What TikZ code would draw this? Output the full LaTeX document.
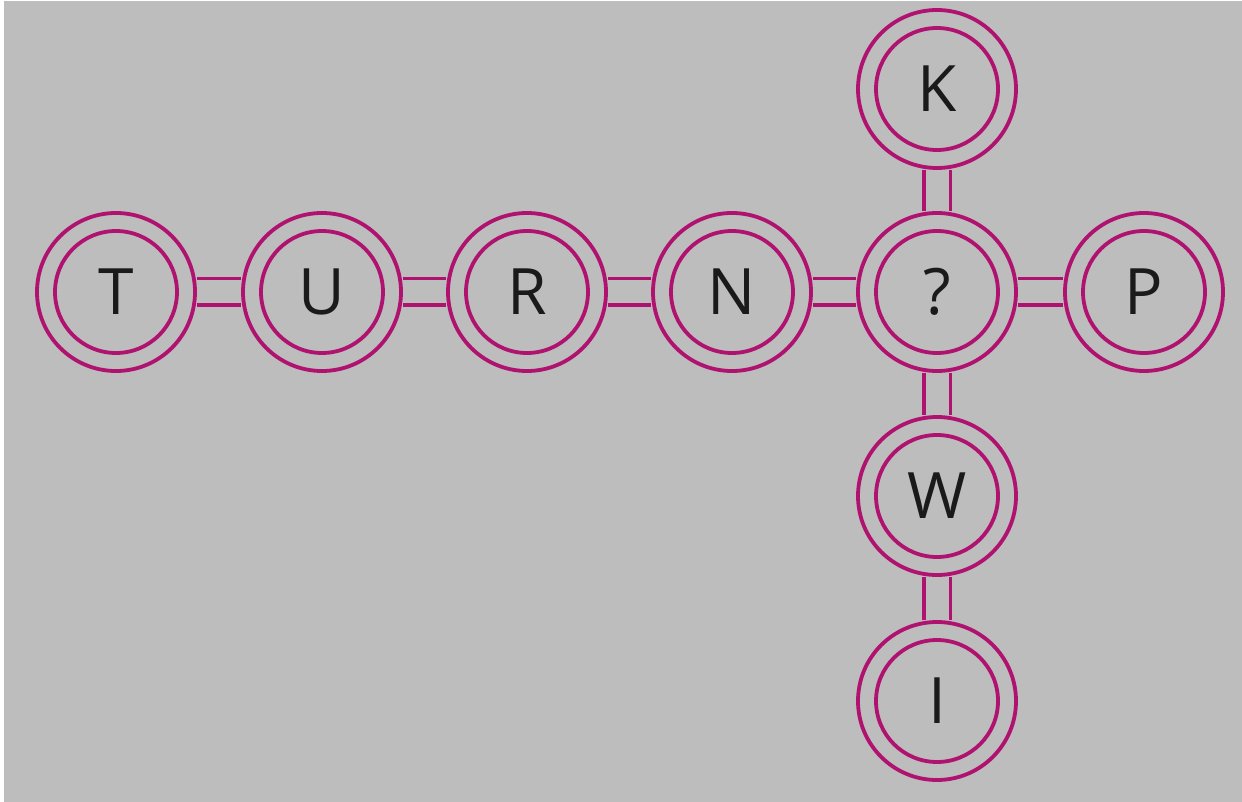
\documentclass[tikz,border=0pt]{standalone}
\usepackage{fontspec}
\setmainfont{Open Sans}
\definecolor{bg}{HTML}{BDBDBD}
\definecolor{mag}{HTML}{B0126F}
\definecolor{ink}{HTML}{1A1A1A}
\begin{document}
\begin{tikzpicture}[x=1pt,y=-1pt,
  ring/.style={circle, draw=mag, line width=3.8pt, minimum size=158pt, inner sep=0pt,
    fill=bg, text=ink, font=\fontsize{64}{70}\selectfont,
    path picture={\draw[mag, line width=3.8pt] (path picture bounding box.center) circle (61pt);}},
  link/.style={draw=mag, line width=3.8pt, double=bg, double distance=23pt}]
\fill[white] (0,0) rectangle (1242,802);
\fill[bg] (4,1) rectangle (1242,802);
\useasboundingbox (0,0) rectangle (1242,802);
\node[ring] (T) at (116,292) {T};
\node[ring] (U) at (322,292) {U};
\node[ring] (R) at (527,292) {R};
\node[ring] (N) at (732,292) {N};
\node[ring] (Q) at (937,292) {?};
\node[ring] (P) at (1144,292) {P};
\node[ring] (K) at (937,89) {K};
\node[ring] (W) at (937,496) {W};
\node[ring] (I) at (937,701) {I};
\draw[link] (T) -- (U);
\draw[link] (U) -- (R);
\draw[link] (R) -- (N);
\draw[link] (N) -- (Q);
\draw[link] (Q) -- (P);
\draw[link] (K) -- (Q);
\draw[link] (Q) -- (W);
\draw[link] (W) -- (I);
\end{tikzpicture}
\end{document}
